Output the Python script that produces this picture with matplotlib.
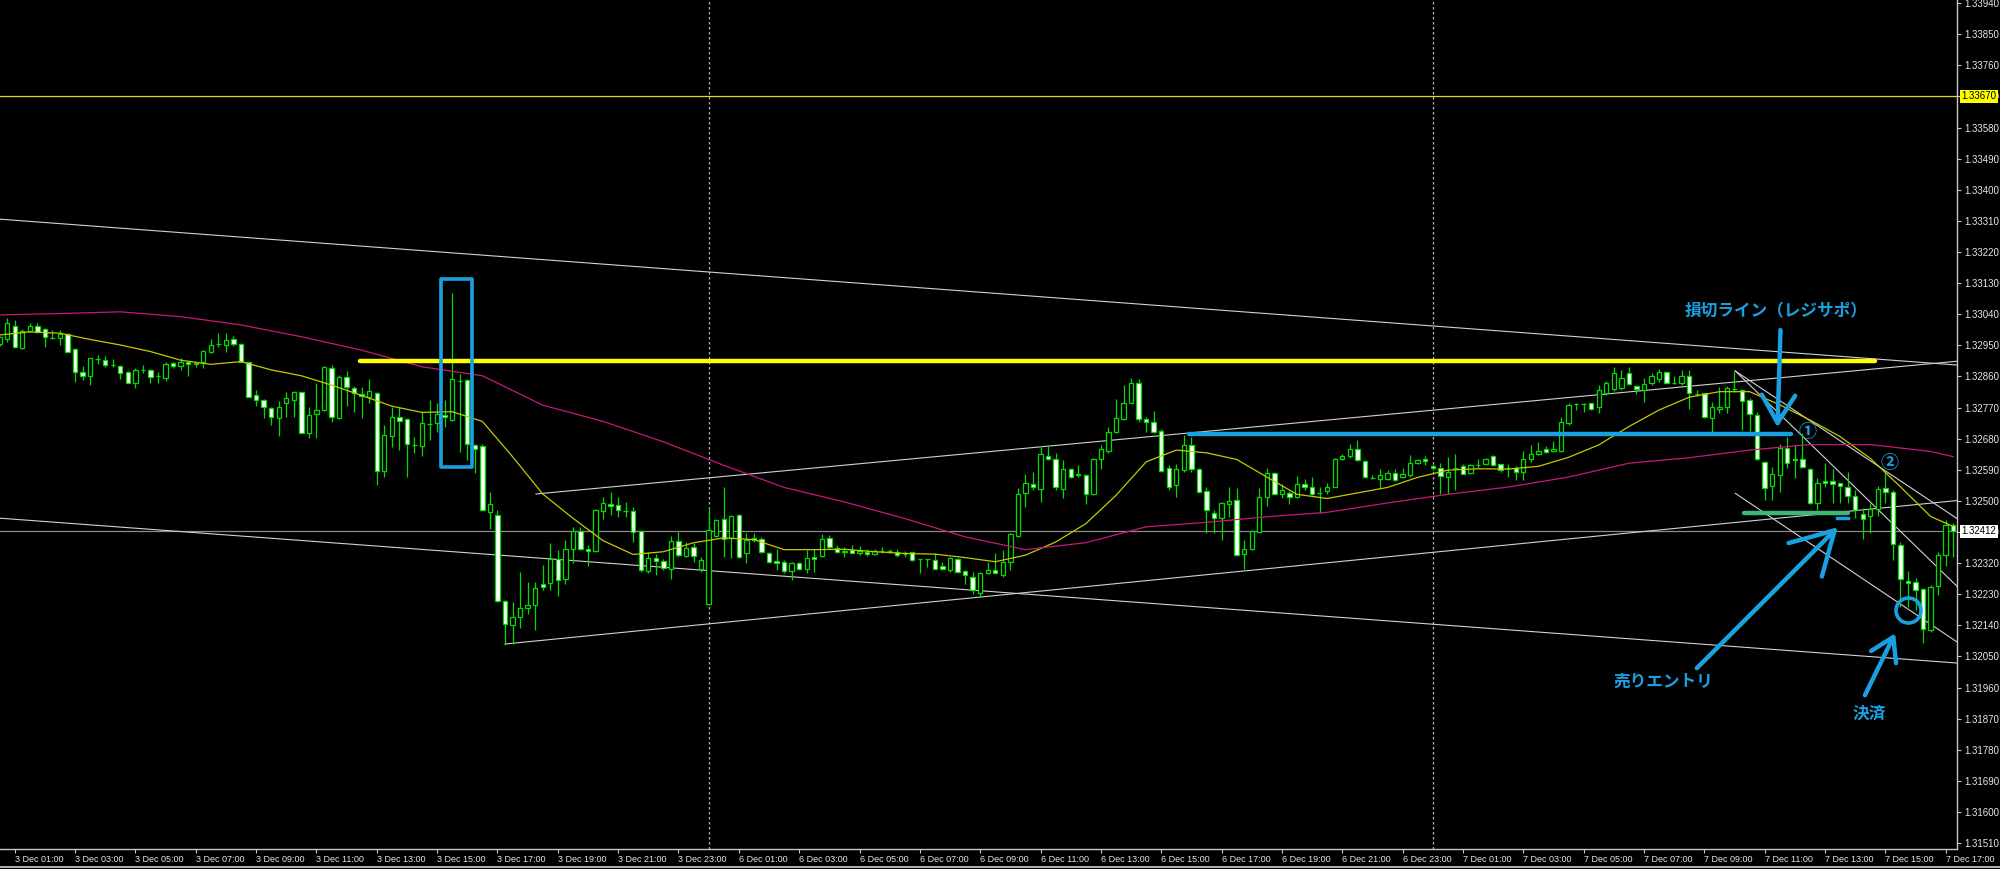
import matplotlib
matplotlib.use("Agg")
import matplotlib.pyplot as plt
from matplotlib.lines import Line2D
from matplotlib.patches import Rectangle
import numpy as np
import pandas as pd

# GBPUSD M15 candles, 3 Dec 00:30 -> 7 Dec 17:15 (weekend removed)
opens = [
    1.32953, 1.32967, 1.33007, 1.32941, 1.32992, 1.33005, 1.32996, 1.32972, 1.32972, 1.32982,
    1.32939, 1.32874, 1.32862, 1.32911, 1.32909, 1.32892, 1.32890, 1.32874, 1.32840, 1.32879,
    1.32879, 1.32862, 1.32856, 1.32898, 1.32890, 1.32901, 1.32898, 1.32903, 1.32930, 1.32953,
    1.32951, 1.32967, 1.32954, 1.32901, 1.32805, 1.32792, 1.32768, 1.32739, 1.32784, 1.32793,
    1.32814, 1.32697, 1.32750, 1.32762, 1.32883, 1.32739, 1.32859, 1.32828, 1.32810, 1.32800,
    1.32813, 1.32587, 1.32688, 1.32742, 1.32736, 1.32663, 1.32659, 1.32722, 1.32724, 1.32749,
    1.32734, 1.32848, 1.32850, 1.32663, 1.32658, 1.32468, 1.32459, 1.32211, 1.32140, 1.32165,
    1.32189, 1.32200, 1.32259, 1.32263, 1.32333, 1.32273, 1.32360, 1.32413, 1.32362, 1.32355,
    1.32471, 1.32492, 1.32488, 1.32471, 1.32472, 1.32413, 1.32298, 1.32336, 1.32327, 1.32304,
    1.32384, 1.32342, 1.32366, 1.32304, 1.32201, 1.32398, 1.32449, 1.32394, 1.32459, 1.32350,
    1.32394, 1.32390, 1.32350, 1.32327, 1.32324, 1.32298, 1.32320, 1.32302, 1.32338, 1.32341,
    1.32394, 1.32365, 1.32353, 1.32357, 1.32348, 1.32353, 1.32346, 1.32355, 1.32356, 1.32353,
    1.32346, 1.32351, 1.32331, 1.32331, 1.32330, 1.32311, 1.32300, 1.32333, 1.32298, 1.32280,
    1.32235, 1.32292, 1.32301, 1.32287, 1.32322, 1.32399, 1.32523, 1.32550, 1.32533, 1.32630,
    1.32620, 1.32533, 1.32591, 1.32577, 1.32576, 1.32521, 1.32620, 1.32644, 1.32698, 1.32736,
    1.32784, 1.32841, 1.32736, 1.32729, 1.32702, 1.32594, 1.32545, 1.32589, 1.32661, 1.32591,
    1.32528, 1.32466, 1.32451, 1.32492, 1.32502, 1.32346, 1.32362, 1.32410, 1.32510, 1.32581,
    1.32519, 1.32523, 1.32512, 1.32550, 1.32540, 1.32524, 1.32528, 1.32540, 1.32622, 1.32629,
    1.32651, 1.32615, 1.32567, 1.32562, 1.32562, 1.32581, 1.32568, 1.32576, 1.32610, 1.32620,
    1.32600, 1.32595, 1.32569, 1.32594, 1.32600, 1.32581, 1.32605, 1.32608, 1.32629, 1.32606,
    1.32596, 1.32594, 1.32584, 1.32622, 1.32637, 1.32651, 1.32645, 1.32645, 1.32726, 1.32780,
    1.32780, 1.32782, 1.32771, 1.32813, 1.32823, 1.32826, 1.32869, 1.32833, 1.32821, 1.32840,
    1.32852, 1.32872, 1.32842, 1.32840, 1.32861, 1.32808, 1.32811, 1.32739, 1.32765, 1.32773,
    1.32824, 1.32821, 1.32792, 1.32749, 1.32612, 1.32543, 1.32575, 1.32652, 1.32620, 1.32620,
    1.32593, 1.32493, 1.32559, 1.32559, 1.32551, 1.32541, 1.32514, 1.32461, 1.32455, 1.32476,
    1.32537, 1.32527, 1.32373, 1.32267, 1.32264, 1.32245, 1.32127, 1.32254, 1.32344, 1.32431,
]
highs = [
    1.32978, 1.33028, 1.33023, 1.32996, 1.33014, 1.33014, 1.32999, 1.32994, 1.32994, 1.32985,
    1.32941, 1.32890, 1.32912, 1.32922, 1.32920, 1.32910, 1.32893, 1.32877, 1.32883, 1.32893,
    1.32881, 1.32874, 1.32903, 1.32901, 1.32912, 1.32903, 1.32903, 1.32936, 1.32967, 1.32987,
    1.32985, 1.32977, 1.32956, 1.32903, 1.32821, 1.32795, 1.32772, 1.32790, 1.32814, 1.32817,
    1.32816, 1.32771, 1.32842, 1.32890, 1.32892, 1.32863, 1.32876, 1.32833, 1.32830, 1.32854,
    1.32816, 1.32719, 1.32772, 1.32771, 1.32739, 1.32684, 1.32758, 1.32792, 1.32784, 1.32792,
    1.33101, 1.32867, 1.32852, 1.32665, 1.32664, 1.32526, 1.32473, 1.32213, 1.32208, 1.32295,
    1.32266, 1.32266, 1.32314, 1.32377, 1.32357, 1.32386, 1.32425, 1.32425, 1.32372, 1.32478,
    1.32510, 1.32526, 1.32512, 1.32497, 1.32483, 1.32415, 1.32353, 1.32346, 1.32333, 1.32399,
    1.32410, 1.32380, 1.32377, 1.32338, 1.32481, 1.32449, 1.32539, 1.32460, 1.32461, 1.32407,
    1.32406, 1.32396, 1.32353, 1.32362, 1.32329, 1.32324, 1.32324, 1.32357, 1.32362, 1.32404,
    1.32401, 1.32372, 1.32367, 1.32372, 1.32370, 1.32362, 1.32362, 1.32367, 1.32362, 1.32362,
    1.32355, 1.32353, 1.32333, 1.32333, 1.32348, 1.32324, 1.32338, 1.32335, 1.32301, 1.32295,
    1.32295, 1.32324, 1.32348, 1.32357, 1.32406, 1.32536, 1.32579, 1.32584, 1.32656, 1.32661,
    1.32639, 1.32618, 1.32596, 1.32603, 1.32579, 1.32625, 1.32661, 1.32714, 1.32796, 1.32835,
    1.32855, 1.32853, 1.32743, 1.32760, 1.32709, 1.32603, 1.32608, 1.32690, 1.32685, 1.32594,
    1.32539, 1.32473, 1.32497, 1.32539, 1.32538, 1.32386, 1.32415, 1.32536, 1.32594, 1.32584,
    1.32548, 1.32529, 1.32571, 1.32563, 1.32569, 1.32540, 1.32552, 1.32625, 1.32637, 1.32666,
    1.32676, 1.32618, 1.32574, 1.32591, 1.32589, 1.32591, 1.32594, 1.32632, 1.32622, 1.32629,
    1.32608, 1.32610, 1.32627, 1.32635, 1.32608, 1.32608, 1.32622, 1.32625, 1.32632, 1.32608,
    1.32608, 1.32600, 1.32644, 1.32661, 1.32671, 1.32658, 1.32674, 1.32743, 1.32782, 1.32782,
    1.32782, 1.32783, 1.32835, 1.32848, 1.32888, 1.32879, 1.32888, 1.32835, 1.32855, 1.32869,
    1.32881, 1.32874, 1.32861, 1.32879, 1.32879, 1.32821, 1.32813, 1.32787, 1.32829, 1.32831,
    1.32877, 1.32823, 1.32797, 1.32758, 1.32614, 1.32599, 1.32665, 1.32686, 1.32662, 1.32696,
    1.32594, 1.32566, 1.32611, 1.32592, 1.32553, 1.32585, 1.32532, 1.32479, 1.32493, 1.32543,
    1.32585, 1.32532, 1.32382, 1.32296, 1.32276, 1.32247, 1.32257, 1.32353, 1.32445, 1.32435,
]
lows = [
    1.32948, 1.32961, 1.32941, 1.32939, 1.32989, 1.32987, 1.32946, 1.32968, 1.32951, 1.32930,
    1.32843, 1.32850, 1.32835, 1.32895, 1.32888, 1.32888, 1.32854, 1.32840, 1.32828, 1.32871,
    1.32842, 1.32840, 1.32847, 1.32885, 1.32879, 1.32861, 1.32888, 1.32883, 1.32927, 1.32946,
    1.32930, 1.32949, 1.32901, 1.32800, 1.32774, 1.32741, 1.32719, 1.32688, 1.32743, 1.32744,
    1.32695, 1.32681, 1.32681, 1.32760, 1.32729, 1.32737, 1.32775, 1.32758, 1.32739, 1.32782,
    1.32546, 1.32570, 1.32657, 1.32647, 1.32570, 1.32638, 1.32631, 1.32676, 1.32700, 1.32715,
    1.32732, 1.32642, 1.32618, 1.32580, 1.32471, 1.32420, 1.32208, 1.32083, 1.32087, 1.32131,
    1.32174, 1.32126, 1.32242, 1.32242, 1.32224, 1.32261, 1.32321, 1.32357, 1.32311, 1.32353,
    1.32449, 1.32459, 1.32454, 1.32454, 1.32381, 1.32295, 1.32290, 1.32285, 1.32300, 1.32275,
    1.32338, 1.32338, 1.32324, 1.32295, 1.32198, 1.32396, 1.32338, 1.32336, 1.32336, 1.32321,
    1.32381, 1.32348, 1.32319, 1.32300, 1.32290, 1.32271, 1.32300, 1.32290, 1.32295, 1.32338,
    1.32362, 1.32348, 1.32338, 1.32348, 1.32343, 1.32340, 1.32343, 1.32348, 1.32350, 1.32338,
    1.32338, 1.32327, 1.32290, 1.32309, 1.32302, 1.32301, 1.32295, 1.32292, 1.32259, 1.32232,
    1.32222, 1.32288, 1.32290, 1.32280, 1.32300, 1.32396, 1.32483, 1.32531, 1.32497, 1.32618,
    1.32531, 1.32507, 1.32565, 1.32569, 1.32490, 1.32516, 1.32591, 1.32639, 1.32695, 1.32733,
    1.32782, 1.32729, 1.32700, 1.32695, 1.32584, 1.32531, 1.32512, 1.32584, 1.32585, 1.32525,
    1.32406, 1.32406, 1.32386, 1.32454, 1.32341, 1.32304, 1.32357, 1.32407, 1.32485, 1.32516,
    1.32507, 1.32492, 1.32507, 1.32531, 1.32516, 1.32465, 1.32521, 1.32539, 1.32618, 1.32625,
    1.32616, 1.32565, 1.32562, 1.32536, 1.32560, 1.32558, 1.32565, 1.32569, 1.32608, 1.32603,
    1.32589, 1.32521, 1.32519, 1.32531, 1.32577, 1.32579, 1.32594, 1.32603, 1.32600, 1.32584,
    1.32569, 1.32560, 1.32560, 1.32613, 1.32632, 1.32639, 1.32642, 1.32642, 1.32719, 1.32762,
    1.32757, 1.32762, 1.32755, 1.32806, 1.32819, 1.32821, 1.32835, 1.32809, 1.32787, 1.32835,
    1.32845, 1.32840, 1.32838, 1.32835, 1.32765, 1.32802, 1.32739, 1.32700, 1.32753, 1.32753,
    1.32816, 1.32705, 1.32703, 1.32619, 1.32503, 1.32503, 1.32527, 1.32594, 1.32566, 1.32594,
    1.32491, 1.32474, 1.32541, 1.32493, 1.32493, 1.32493, 1.32450, 1.32389, 1.32407, 1.32457,
    1.32493, 1.32329, 1.32194, 1.32194, 1.32185, 1.32088, 1.32122, 1.32228, 1.32312, 1.32337,
]
closes = [
    1.32973, 1.33014, 1.32944, 1.32992, 1.33005, 1.32989, 1.32975, 1.32972, 1.32983, 1.32932,
    1.32872, 1.32862, 1.32912, 1.32910, 1.32893, 1.32892, 1.32871, 1.32842, 1.32880, 1.32879,
    1.32859, 1.32862, 1.32896, 1.32890, 1.32902, 1.32895, 1.32897, 1.32934, 1.32951, 1.32953,
    1.32964, 1.32953, 1.32902, 1.32801, 1.32792, 1.32771, 1.32744, 1.32771, 1.32798, 1.32814,
    1.32697, 1.32748, 1.32762, 1.32888, 1.32744, 1.32859, 1.32830, 1.32811, 1.32802, 1.32817,
    1.32587, 1.32691, 1.32744, 1.32732, 1.32666, 1.32663, 1.32726, 1.32722, 1.32750, 1.32744,
    1.32852, 1.32848, 1.32665, 1.32651, 1.32475, 1.32492, 1.32211, 1.32145, 1.32163, 1.32189,
    1.32200, 1.32249, 1.32251, 1.32333, 1.32271, 1.32360, 1.32413, 1.32360, 1.32355, 1.32475,
    1.32495, 1.32485, 1.32475, 1.32471, 1.32410, 1.32299, 1.32336, 1.32326, 1.32307, 1.32384,
    1.32343, 1.32364, 1.32342, 1.32328, 1.32415, 1.32444, 1.32391, 1.32456, 1.32338, 1.32386,
    1.32386, 1.32351, 1.32322, 1.32321, 1.32298, 1.32321, 1.32304, 1.32336, 1.32332, 1.32390,
    1.32367, 1.32353, 1.32354, 1.32350, 1.32355, 1.32346, 1.32354, 1.32355, 1.32356, 1.32344,
    1.32345, 1.32328, 1.32331, 1.32331, 1.32304, 1.32303, 1.32336, 1.32295, 1.32285, 1.32242,
    1.32292, 1.32301, 1.32292, 1.32322, 1.32403, 1.32521, 1.32552, 1.32539, 1.32635, 1.32622,
    1.32540, 1.32591, 1.32569, 1.32576, 1.32521, 1.32620, 1.32649, 1.32698, 1.32740, 1.32784,
    1.32841, 1.32738, 1.32727, 1.32698, 1.32587, 1.32540, 1.32591, 1.32661, 1.32591, 1.32527,
    1.32473, 1.32451, 1.32494, 1.32500, 1.32343, 1.32362, 1.32413, 1.32510, 1.32581, 1.32519,
    1.32531, 1.32512, 1.32550, 1.32540, 1.32521, 1.32524, 1.32540, 1.32622, 1.32629, 1.32649,
    1.32618, 1.32568, 1.32567, 1.32576, 1.32581, 1.32560, 1.32579, 1.32611, 1.32618, 1.32614,
    1.32594, 1.32571, 1.32585, 1.32594, 1.32579, 1.32603, 1.32605, 1.32622, 1.32603, 1.32589,
    1.32596, 1.32584, 1.32622, 1.32635, 1.32645, 1.32642, 1.32651, 1.32729, 1.32777, 1.32780,
    1.32780, 1.32767, 1.32821, 1.32842, 1.32869, 1.32855, 1.32837, 1.32823, 1.32838, 1.32861,
    1.32874, 1.32842, 1.32842, 1.32860, 1.32811, 1.32808, 1.32742, 1.32773, 1.32773, 1.32826,
    1.32824, 1.32790, 1.32752, 1.32620, 1.32537, 1.32578, 1.32652, 1.32611, 1.32617, 1.32599,
    1.32493, 1.32551, 1.32551, 1.32549, 1.32543, 1.32514, 1.32474, 1.32447, 1.32476, 1.32534,
    1.32527, 1.32376, 1.32273, 1.32262, 1.32243, 1.32129, 1.32252, 1.32344, 1.32431, 1.32412,
]

# moving averages: fast every 4 bars, slow every 8 bars (+ last bar)
ma_fast = [
    1.32980, 1.32989, 1.32985, 1.32967, 1.32951, 1.32932, 1.32907, 1.32895, 1.32903, 1.32879,
    1.32862, 1.32835, 1.32805, 1.32774, 1.32756, 1.32758, 1.32730, 1.32628, 1.32520, 1.32450,
    1.32385, 1.32345, 1.32353, 1.32379, 1.32393, 1.32388, 1.32359, 1.32359, 1.32360, 1.32353,
    1.32348, 1.32346, 1.32336, 1.32324, 1.32343, 1.32381, 1.32434, 1.32516, 1.32613, 1.32647,
    1.32639, 1.32620, 1.32569, 1.32519, 1.32507, 1.32523, 1.32539, 1.32568, 1.32589, 1.32593,
    1.32592, 1.32600, 1.32626, 1.32662, 1.32715, 1.32763, 1.32800, 1.32816, 1.32816, 1.32778,
    1.32734, 1.32686, 1.32623, 1.32541, 1.32455, 1.32426,
]
ma_slow = [
    1.33038, 1.33042, 1.33047, 1.33033, 1.33009, 1.32975, 1.32936, 1.32888, 1.32862, 1.32777,
    1.32730, 1.32671, 1.32603, 1.32539, 1.32497, 1.32449, 1.32396, 1.32359, 1.32379, 1.32425,
    1.32438, 1.32454, 1.32467, 1.32494, 1.32519, 1.32540, 1.32569, 1.32609, 1.32625, 1.32647,
    1.32663, 1.32663, 1.32643, 1.32628,
]

# drawn objects: (bar, price) end points
trend_lines = [
    ((0.05, 1.33315), (259.5, 1.32893)),
    ((0.05, 1.32450), (259.5, 1.32031)),
    ((71.1, 1.32520), (259.5, 1.32904)),
    ((67.0, 1.32086), (259.5, 1.32501)),
    ((230.1, 1.32876), (259.5, 1.32449)),
    ((230.1, 1.32876), (259.5, 1.32253)),
    ((230.1, 1.32522), (259.5, 1.32092)),
]
resistance = (47.8, 248.6, 1.32906)
stop_line = (157.7, 237.5, 1.32693)
entry_line = (231.2, 245.1, 1.32466)
spike_box = (58.5, 62.6, 1.32598, 1.33142)
alert_level = 1.33670
last_price = 1.32412

day3 = pd.date_range("2021-12-03 00:30", "2021-12-03 23:45", freq="15min")
day6 = pd.date_range("2021-12-06 00:00", "2021-12-06 23:45", freq="15min")
day7 = pd.date_range("2021-12-07 00:00", "2021-12-07 17:15", freq="15min")
times = day3.append(day6).append(day7)

GREEN = "#00dc00"
BLUE = "#1aa0e0"
AXC = "#c8c8c8"

plt.rcParams["font.family"] = ["Liberation Sans", "DejaVu Sans"]
fig = plt.figure(figsize=(20, 8.69), dpi=100, facecolor="black")
ax = fig.add_axes([0, 20 / 869, 1957 / 2000, 849 / 869])
ax.set_facecolor("black")

x = np.arange(len(closes))
o, h, l, c = map(np.array, (opens, highs, lows, closes))
bull = c >= o

# period separators
for i, t in enumerate(times):
    if t.hour == 0 and t.minute == 0:
        ax.axvline(i, color="#b4b4b4", lw=0.9, ls=(0, (2, 2)), zorder=1)

ax.axhline(alert_level, color="#e0e000", lw=0.9, zorder=1)
ax.axhline(last_price, color="#8c8c8c", lw=0.9, zorder=1)

for (x0, y0), (x1, y1) in trend_lines:
    ax.plot([x0, x1], [y0, y1], color="#d2d2d2", lw=0.8, zorder=2)

ax.vlines(x, l, h, color=GREEN, lw=0.9, zorder=3)
ax.bar(x, c - o, bottom=o, width=0.58, color=np.where(bull, "black", "white"),
       edgecolor=GREEN, linewidth=0.9, zorder=4)

fast_x = list(range(0, len(closes), 4)) + [len(closes) - 1]
slow_x = list(range(0, len(closes), 8)) + [len(closes) - 1]
ax.plot(fast_x, ma_fast, color="#c8c800", lw=0.9, zorder=5)
ax.plot(slow_x, ma_slow, color="#c8187a", lw=0.9, zorder=5)

# user drawings
ax.plot(resistance[:2], [resistance[2]] * 2, color="#ffff00", lw=3.2,
        solid_capstyle="round", zorder=6)
ax.plot(stop_line[:2], [stop_line[2]] * 2, color=BLUE, lw=3.2,
        solid_capstyle="round", zorder=6)
ax.plot(entry_line[:2], [entry_line[2]] * 2, color="#3cb878", lw=3.2,
        solid_capstyle="round", zorder=6)
ax.plot([243.6, 245.1], [1.32450, 1.32450], color=BLUE, lw=2.5, zorder=6)
bx0, bx1, by0, by1 = spike_box
ax.add_patch(Rectangle((bx0, by0), bx1 - bx0, by1 - by0, fill=False,
                       ec=BLUE, lw=2.6, joinstyle="round", zorder=6))

jp = ["Noto Sans CJK JP", "DejaVu Sans"]
ax.text(235.5, 1.33047, "損切ライン（レジサポ）", color=BLUE, fontsize=12,
        family=jp, fontweight="bold", ha="center", va="center", zorder=7)
ax.text(220.6, 1.31976, "売りエントリ", color=BLUE, fontsize=12,
        family=jp, fontweight="bold", ha="center", va="center", zorder=7)
ax.text(247.8, 1.31886, "決済", color=BLUE, fontsize=12,
        family=jp, fontweight="bold", ha="center", va="center", zorder=7)
ax.text(239.7, 1.32700, "①", color=BLUE, fontsize=13, family=jp,
        fontweight="bold", ha="center", va="center", zorder=7)
ax.text(250.5, 1.32612, "②", color=BLUE, fontsize=13, family=jp,
        fontweight="bold", ha="center", va="center", zorder=7)

arrows = [
    ((236.1, 1.32994), (235.7, 1.32713), 1.0, 0.6),
    ((225.0, 1.32016), (243.7, 1.32424), 1.5, 0.85),
    ((247.3, 1.31938), (251.3, 1.32117), 0.8, 0.5),
]
for tail, tip, hl, hw in arrows:
    ax.annotate("", xy=tip, xytext=tail, zorder=7,
                arrowprops=dict(arrowstyle=f"->,head_length={hl},head_width={hw}",
                                color=BLUE, lw=3.2, mutation_scale=20,
                                shrinkA=0, shrinkB=0, capstyle="round",
                                joinstyle="round"))
ax.plot(253.0, 1.32184, "o", ms=18, mfc="none", mec=BLUE, mew=2.6, zorder=7)

# axes styling
ax.set_xlim(0.05, 259.5)
ax.set_ylim(1.31493, 1.33949)
for side in ("left", "top"):
    ax.spines[side].set_visible(False)
for side in ("right", "bottom"):
    ax.spines[side].set_color(AXC)
    ax.spines[side].set_linewidth(1.0)

yt = np.round(np.arange(1.31510, 1.33941, 0.0009), 5)
ax.set_yticks(yt)
ax.set_yticklabels([f"{v:.5f}" for v in yt])
ax.yaxis.tick_right()
ax.tick_params(axis="y", colors=AXC, labelcolor="#e6e6e6", labelsize=7,
               length=3, width=0.8, pad=2)

xt = [i for i, t in enumerate(times) if t.minute == 0 and t.hour % 2 == 1]
ax.set_xticks(xt)
ax.set_xticklabels([f"{times[i].day} Dec {times[i]:%H:%M}" for i in xt])
ax.tick_params(axis="x", colors=AXC, labelcolor="#e6e6e6", labelsize=6.5,
               length=3, width=0.8, pad=1.5)
for lbl in ax.get_xticklabels():
    lbl.set_ha("left")

for price, bg in ((alert_level, "#ffff00"), (last_price, "white")):
    ax.annotate(f"{price:.5f}", xy=(1, price), xycoords=("axes fraction", "data"),
                xytext=(3, 0), textcoords="offset points", ha="left", va="center",
                fontsize=7, color="black", annotation_clip=False, zorder=8,
                bbox=dict(boxstyle="square,pad=0.15", fc=bg, ec="none"))

fig.add_artist(Line2D([0, 1], [0.002, 0.002], transform=fig.transFigure,
                      color="#d0d0d0", lw=1.2))

fig.savefig("out.png", dpi=100, facecolor="black")
